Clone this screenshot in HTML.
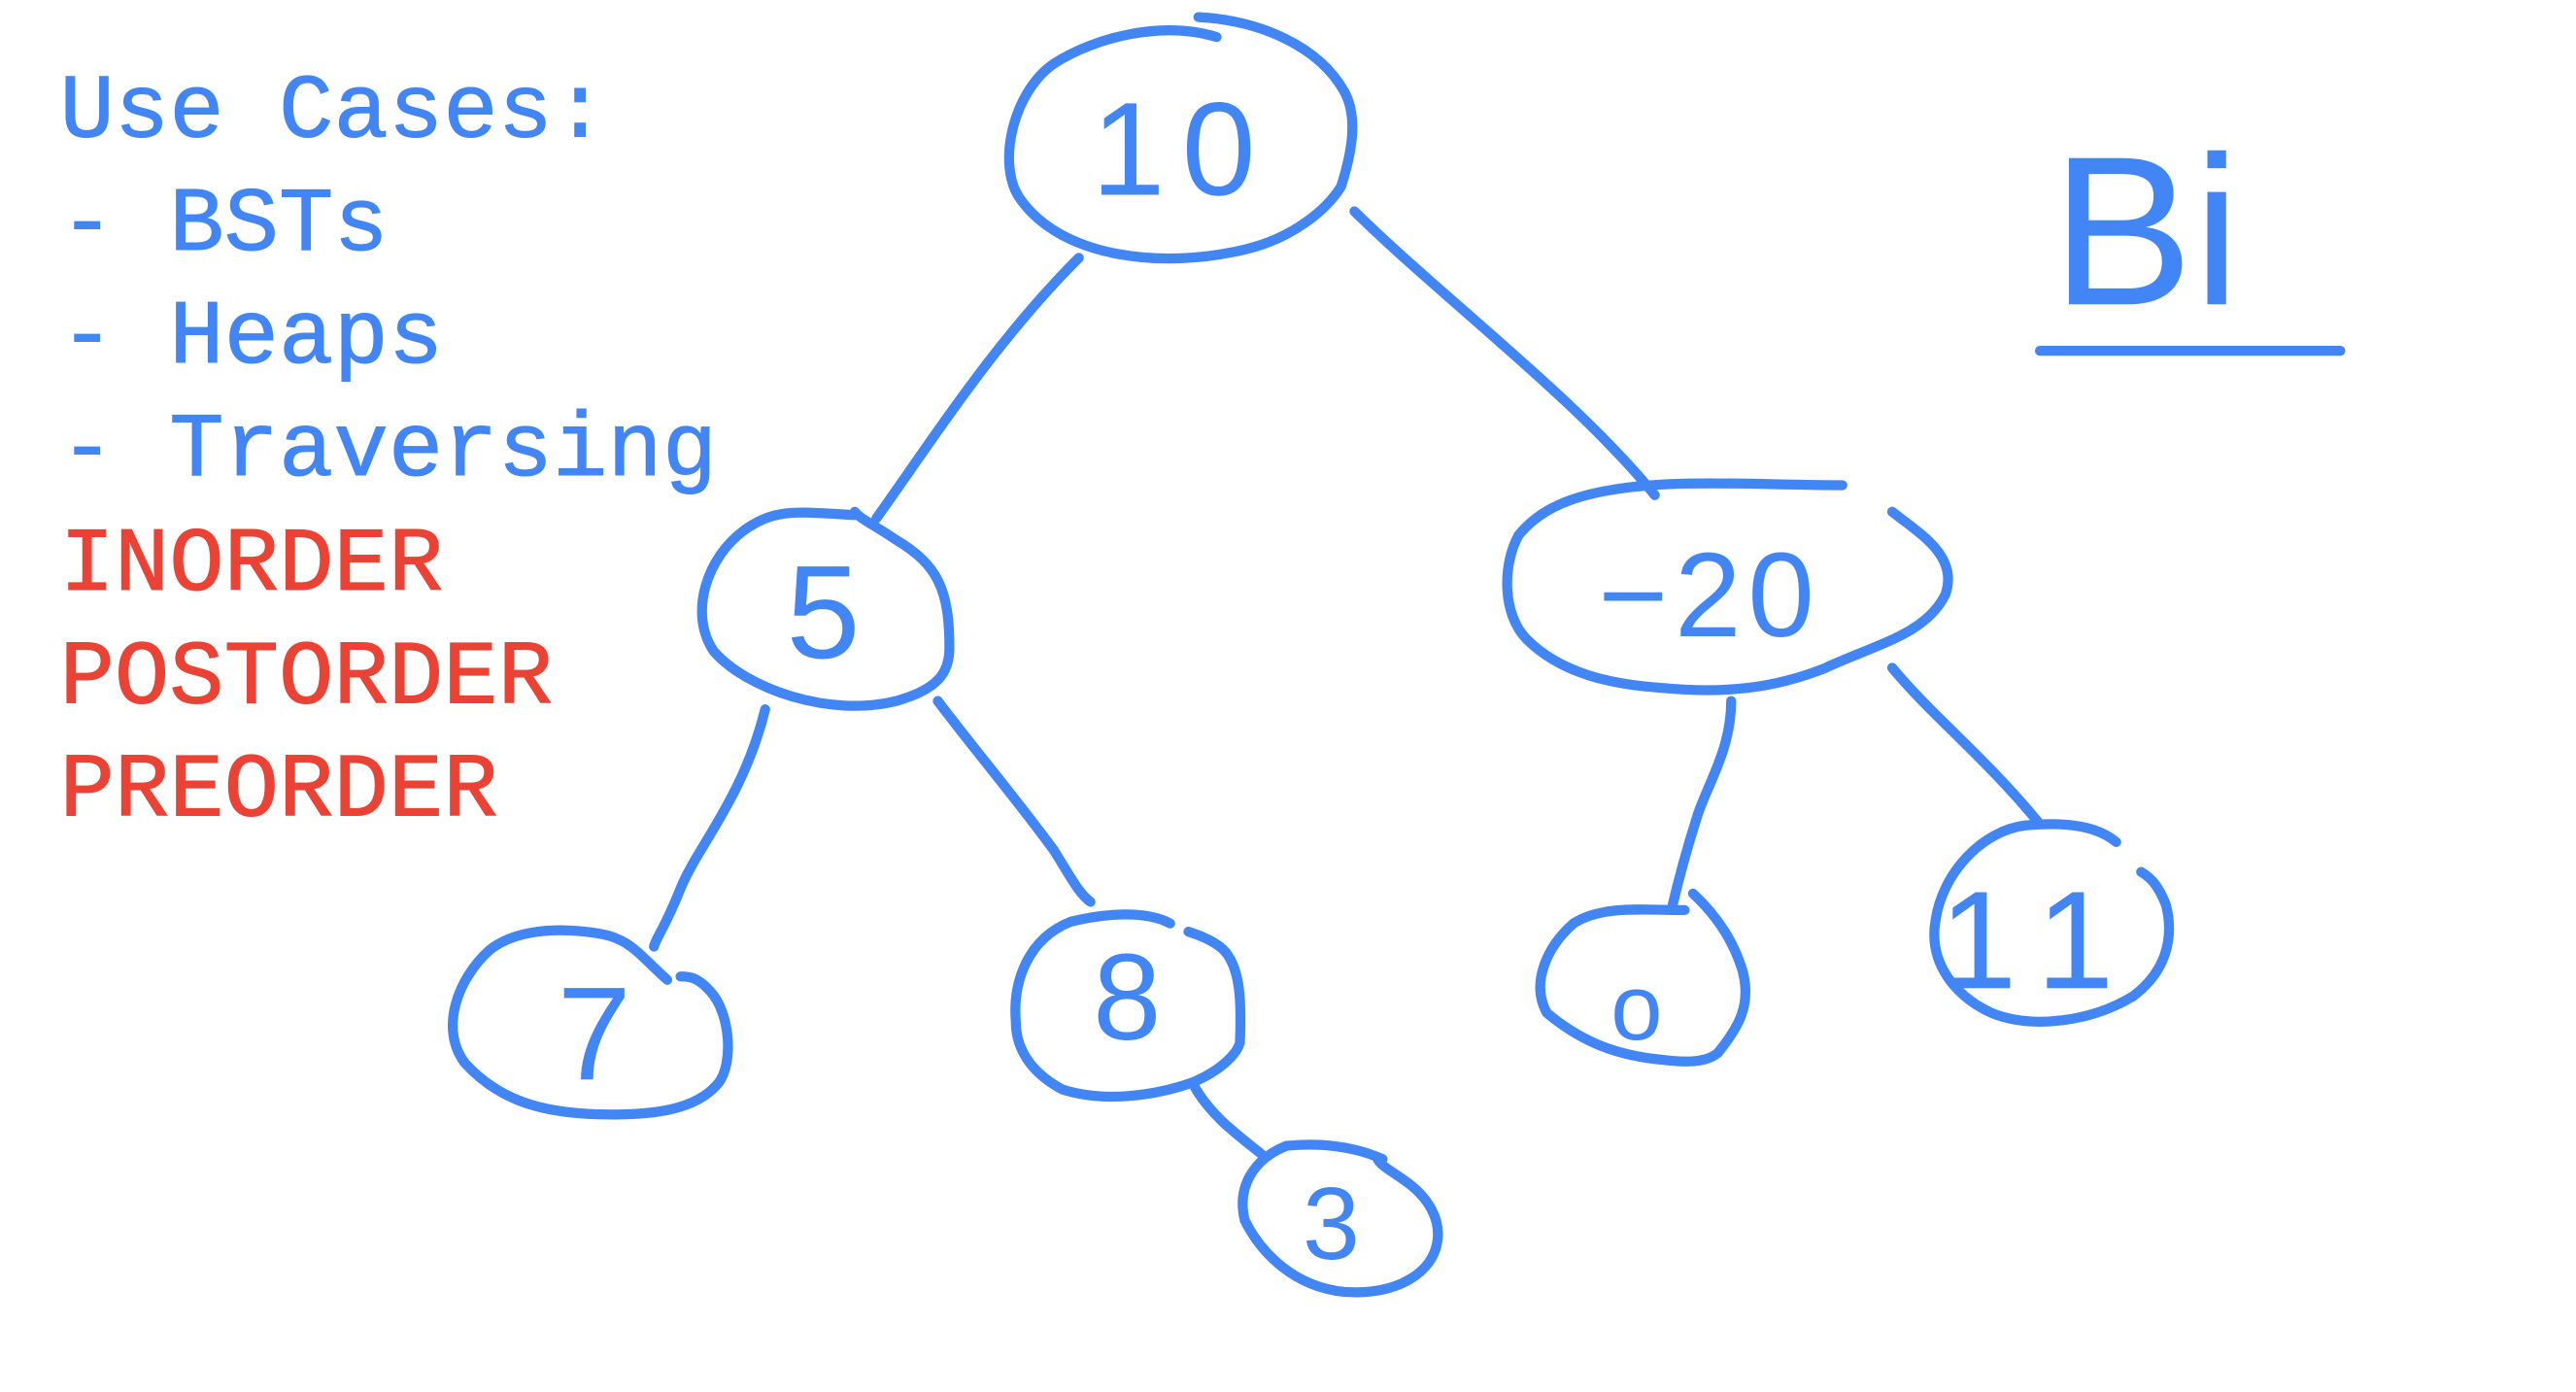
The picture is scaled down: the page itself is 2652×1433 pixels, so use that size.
<!DOCTYPE html>
<html><head><meta charset="utf-8"><style>
html,body{margin:0;padding:0;background:#fff;}
svg{display:block;}
</style></head><body>
<svg width="2652" height="1433" viewBox="0 0 1552 838" xmlns="http://www.w3.org/2000/svg">
<rect width="1552" height="838" fill="#fff"/>
<g font-family="'Liberation Mono', monospace" font-size="55" stroke-width="0.6">
<text x="36" y="82" fill="#4285F4" stroke="#4285F4">Use Cases:</text>
<text x="36" y="150" fill="#4285F4" stroke="#4285F4">- BSTs</text>
<text x="36" y="218" fill="#4285F4" stroke="#4285F4">- Heaps</text>
<text x="36" y="286" fill="#4285F4" stroke="#4285F4">- Traversing</text>
<text x="36" y="355" fill="#EA4335" stroke="#EA4335">INORDER</text>
<text x="36" y="423" fill="#EA4335" stroke="#EA4335">POSTORDER</text>
<text x="36" y="491" fill="#EA4335" stroke="#EA4335">PREORDER</text>
</g>
<g fill="none" stroke="#4285F4" stroke-width="6" stroke-linecap="round" stroke-linejoin="round">
<path d="M733,22 C700,12 660,22 635,38 C610,55 600,100 615,120 C640,155 700,162 750,150 C780,143 800,125 808,112 C815,90 818,70 810,55 C795,28 760,12 722,10"/>
<path d="M515,310 C480,308 468,306 450,318 C425,335 415,370 430,392 C450,415 500,432 540,422 C565,415 572,405 572,390 C572,355 565,340 540,325 C525,315 518,312 515,308"/>
<path d="M1110,292 C1060,292 1010,288 970,295 C940,300 925,310 915,322 C905,340 905,370 920,385 C940,405 970,412 1000,414 C1040,418 1070,414 1100,402 C1130,388 1160,382 1172,358 C1180,335 1158,322 1140,308"/>
<path d="M402,590 C385,575 380,565 360,562 C335,558 310,560 295,572 C275,590 265,620 280,640 C300,662 325,670 360,671 C395,672 420,668 433,652 C442,640 440,610 428,597 C420,588 415,588 410,588"/>
<path d="M705,556 C690,548 665,550 645,555 C620,565 610,590 612,615 C612,635 625,648 640,656 C665,664 695,660 718,652 C735,645 745,635 747,628 C748,605 748,580 735,570 C728,565 722,563 716,561"/>
<path d="M833,698 C815,690 795,688 775,690 C755,698 745,715 750,735 C760,755 780,775 810,778 C840,780 860,768 865,752 C870,735 860,720 845,710 C838,705 832,702 830,698"/>
<path d="M1015,548 C990,548 965,545 948,556 C932,570 922,592 932,610 C950,625 970,635 1000,638 C1015,640 1028,640 1035,634 C1048,618 1055,605 1050,585 C1044,565 1033,550 1020,538"/>
<path d="M1275,507 C1262,496 1240,495 1220,497 C1195,500 1170,525 1166,555 C1162,580 1178,600 1200,610 C1225,620 1260,615 1285,600 C1305,585 1310,565 1305,545 C1300,532 1295,528 1290,525"/>
<path d="M650,155 C600,205 565,260 528,312"/>
<path d="M816,127 C870,180 950,240 997,298"/>
<path d="M461,427 C448,480 420,510 410,535 C400,560 395,565 394,570"/>
<path d="M565,422 C590,455 610,478 635,512 C645,528 650,538 657,543"/>
<path d="M720,655 C730,672 745,683 760,695"/>
<path d="M1043,422 C1043,450 1030,470 1023,490 C1015,515 1010,535 1007,548"/>
<path d="M1140,402 C1165,432 1195,455 1228,495"/>
<path d="M1229,211 L1410,211"/>
</g>
<g font-family="'Liberation Sans', sans-serif" fill="#4285F4">
<text x="712" y="117" font-size="80" text-anchor="middle" letter-spacing="10">10</text>
<text x="496" y="396" font-size="80" text-anchor="middle">5</text>
<text x="1030" y="383" font-size="72" text-anchor="middle" letter-spacing="4">−20</text>
<text x="358" y="650" font-size="80" text-anchor="middle">7</text>
<text x="679" y="626" font-size="74" text-anchor="middle">8</text>
<text x="802" y="758" font-size="62" text-anchor="middle">3</text>
<text x="986" y="626" font-size="56" text-anchor="middle">o</text>
<text x="1230" y="595" font-size="84" text-anchor="middle" letter-spacing="18">11</text>
<text x="1236" y="183" font-size="128">Bi</text>
</g>
</svg>
</body></html>
